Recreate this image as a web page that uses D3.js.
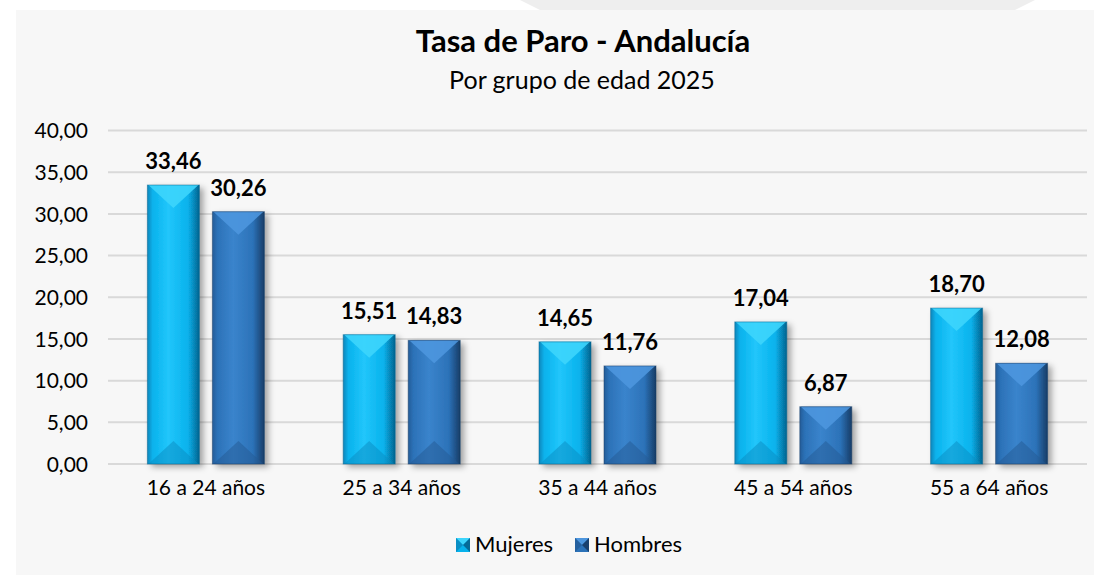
<!DOCTYPE html>
<html>
<head>
<meta charset="utf-8">
<script src="https://cdn.jsdelivr.net/npm/d3@7"></script>
<style>
  html, body { margin: 0; padding: 0; background: #ffffff; }
  svg { display: block; }
  text { font-family: Lato, "Open Sans", sans-serif; fill: #000; }
</style>
</head>
<body>
<svg id="chart" width="1094" height="575"></svg>
<script>
const categories = ["16 a 24 años", "25 a 34 años", "35 a 44 años", "45 a 54 años", "55 a 64 años"];
const seriesNames = ["Mujeres", "Hombres"];
const mujeres = [33.46, 15.51, 14.65, 17.04, 18.70];
const hombres = [30.26, 14.83, 11.76, 6.87, 12.08];
const yTicks = [0, 5, 10, 15, 20, 25, 30, 35, 40];
const titleText = "Tasa de Paro - Andalucía";
const subtitleText = "Por grupo de edad 2025";

const seriesValues = { "Mujeres": mujeres, "Hombres": hombres };
const palette = {
  "Mujeres": { edgeL: "#0b86bb", edgeR: "#06638f", mid: "#07b2ec", light: "#22c6fb", top: "#3dd5fc", bottom: "#0a8cc2" },
  "Hombres": { edgeL: "#245d99", edgeR: "#173c66", mid: "#2c72b8", light: "#3a84cc", top: "#4d96de", bottom: "#245a93" }
};

const svg = d3.select("#chart");
const fmt = v => v.toFixed(2).replace(".", ",");

// background panel
svg.append("rect").attr("x", 16).attr("y", 10).attr("width", 1078).attr("height", 565).attr("fill", "#f7f7f7");
svg.append("path").attr("d", "M520,0 L1035,0 L1015,10 L540,10 Z").attr("fill", "#eeeeee");

const defs = svg.append("defs");
const shadow = defs.append("filter").attr("id", "shadow").attr("x", "-30%").attr("y", "-20%").attr("width", "170%").attr("height", "140%");
shadow.append("feDropShadow").attr("dx", 4).attr("dy", 3).attr("stdDeviation", 3).attr("flood-color", "#000").attr("flood-opacity", 0.35);

seriesNames.forEach(s => {
  const c = palette[s];
  const g = defs.append("linearGradient").attr("id", "grad-" + s).attr("x1", "0").attr("x2", "1").attr("y1", "0").attr("y2", "0");
  g.append("stop").attr("offset", "0%").attr("stop-color", c.edgeL);
  g.append("stop").attr("offset", "10%").attr("stop-color", c.mid);
  g.append("stop").attr("offset", "40%").attr("stop-color", c.light);
  g.append("stop").attr("offset", "78%").attr("stop-color", c.mid);
  g.append("stop").attr("offset", "100%").attr("stop-color", c.edgeR);
});

const x = d3.scaleBand().domain(categories).range([108, 1087]).paddingInner(0).paddingOuter(0);
const xs = d3.scaleBand().domain(seriesNames).range([-58.5, 58.5]).paddingInner(0.2).paddingOuter(0);
const y = d3.scaleLinear().domain([0, 40]).range([464, 130.5]);

// gridlines
svg.append("g").selectAll("line").data(yTicks).join("line")
  .attr("x1", 108).attr("x2", 1087)
  .attr("y1", d => y(d)).attr("y2", d => y(d))
  .attr("stroke", "#d9d9d9").attr("stroke-width", 2);

// y axis
const yAxis = svg.append("g").attr("transform", "translate(88,0)")
  .call(d3.axisLeft(y).tickValues(yTicks).tickFormat(fmt).tickSize(0).tickPadding(0));
yAxis.select(".domain").remove();
yAxis.selectAll("text").style("font-size", "21px").style("font-family", "Lato, 'Open Sans', sans-serif").attr("fill", "#000").attr("dy", "0.35em");

// x axis
const xAxis = svg.append("g").attr("transform", "translate(0,476)")
  .call(d3.axisBottom(x).tickSize(0).tickPadding(0));
xAxis.select(".domain").remove();
xAxis.selectAll("text").style("font-size", "21px").style("font-family", "Lato, 'Open Sans', sans-serif").attr("fill", "#000").attr("dy", "0.9em");

// bars
const data = [];
categories.forEach((cat, i) => {
  seriesNames.forEach(s => data.push({ cat, s, v: seriesValues[s][i] }));
});

const bars = svg.append("g").selectAll("g.bar").data(data).join("g").attr("class", "bar");
bars.each(function(d) {
  const g = d3.select(this);
  const c = palette[d.s];
  const x0 = x(d.cat) + x.bandwidth() / 2 + xs(d.s);
  const w = xs.bandwidth();
  const y0 = y(d.v);
  const h = y(0) - y0;
  const bev = Math.min(23, h / 2);
  g.append("rect").attr("x", x0).attr("y", y0).attr("width", w).attr("height", h)
    .attr("fill", "url(#grad-" + d.s + ")").attr("filter", "url(#shadow)");
  // top bevel
  g.append("path")
    .attr("d", `M${x0 + 1},${y0} L${x0 + w - 1},${y0} L${x0 + w / 2},${y0 + bev} Z`)
    .attr("fill", c.top).attr("opacity", 0.9);
  // bottom bevel
  g.append("path")
    .attr("d", `M${x0 + 1},${y0 + h} L${x0 + w - 1},${y0 + h} L${x0 + w / 2},${y0 + h - bev} Z`)
    .attr("fill", c.bottom).attr("opacity", 0.5);
  // edges
  g.append("rect").attr("x", x0).attr("y", y0).attr("width", w).attr("height", h)
    .attr("fill", "none").attr("stroke", c.edgeR).attr("stroke-width", 1).attr("opacity", 0.5);
  // label
  g.append("text").attr("x", x0 + w / 2).attr("y", y0 - 16)
    .attr("text-anchor", "middle").style("font-size", "22px").style("font-weight", "bold")
    .text(fmt(d.v));
});

// title
svg.append("text").attr("x", 583).attr("y", 52).attr("text-anchor", "middle")
  .style("font-size", "31px").style("font-weight", "bold").text(titleText);
svg.append("text").attr("x", 582).attr("y", 89).attr("text-anchor", "middle")
  .style("font-size", "25px").text(subtitleText);

// legend
const legendX = [456, 575];
const leg = svg.append("g").selectAll("g").data(seriesNames).join("g")
  .attr("transform", (d, i) => `translate(${legendX[i]},538)`);
leg.each(function(s) {
  const g = d3.select(this);
  const c = palette[s];
  g.append("rect").attr("width", 14).attr("height", 14).attr("fill", c.mid);
  g.append("path").attr("d", "M0,0 L14,0 L7,7 Z").attr("fill", c.top);
  g.append("path").attr("d", "M0,0 L7,7 L0,14 Z").attr("fill", c.edgeL).attr("opacity", 0.8);
  g.append("path").attr("d", "M14,0 L7,7 L14,14 Z").attr("fill", c.edgeR).attr("opacity", 0.9);
  g.append("text").attr("x", 19).attr("y", 14).style("font-size", "22px").text(s);
});
</script>
</body>
</html>
